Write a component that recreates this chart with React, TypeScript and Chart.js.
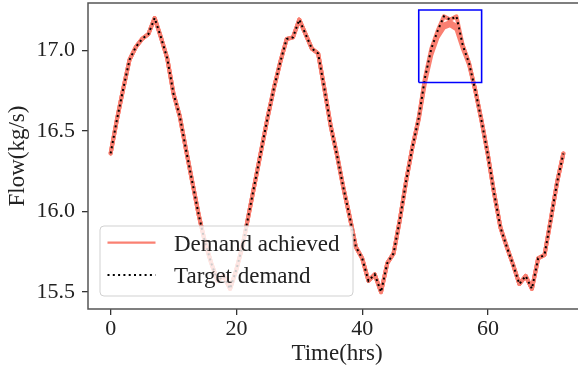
import React, { useEffect, useRef } from "react";
import { Chart, registerables } from "chart.js";

Chart.register(...registerables);

const hours = [
  0, 1, 2, 3, 4, 5, 6, 7, 8, 9, 10, 11, 12, 13, 14, 15, 16, 17, 18, 19, 20, 21, 22, 23,
  24, 25, 26, 27, 28, 29, 30, 31, 32, 33, 34, 35, 36, 37, 38, 39, 40, 41, 42, 43, 44, 45, 46, 47,
  48, 49, 50, 51, 52, 53, 54, 55, 56, 57, 58, 59, 60, 61, 62, 63, 64, 65, 66, 67, 68, 69, 70, 71, 72,
];

const targetDemand = [
  16.36, 16.57, 16.76, 16.94, 17.02, 17.07, 17.1, 17.2, 17.08, 16.95, 16.73, 16.59, 16.38, 16.18, 15.98, 15.81, 15.68, 15.57, 15.6, 15.52, 15.64, 15.79, 15.99, 16.19,
  16.39, 16.59, 16.77, 16.93, 17.07, 17.08, 17.19, 17.1, 17.01, 16.98, 16.76, 16.53, 16.35, 16.15, 15.97, 15.78, 15.71, 15.57, 15.61, 15.5, 15.68, 15.74, 15.95, 16.19,
  16.4, 16.58, 16.83, 17.01, 17.12, 17.21, 17.19, 17.21, 17.03, 16.92, 16.75, 16.56, 16.35, 16.11, 15.9, 15.78, 15.67, 15.55, 15.6, 15.52, 15.71, 15.73, 15.95, 16.18, 16.36,
];

const achievedRun1 = [
  16.36, 16.57, 16.76, 16.94, 17.02, 17.07, 17.1, 17.2, 17.08, 16.95, 16.73, 16.59, 16.38, 16.18, 15.98, 15.81, 15.68, 15.57, 15.6, 15.52, 15.64, 15.79, 15.99, 16.19,
  16.39, 16.59, 16.77, 16.93, 17.07, 17.08, 17.19, 17.1, 17.01, 16.98, 16.76, 16.53, 16.35, 16.15, 15.97, 15.78, 15.71, 15.57, 15.61, 15.5, 15.68, 15.74, 15.95, 16.19,
  16.4, 16.58, 16.83, 17.01, 17.12, 17.21, 17.19, 17.21, 17.03, 16.92, 16.75, 16.56, 16.35, 16.11, 15.9, 15.78, 15.67, 15.55, 15.6, 15.52, 15.71, 15.73, 15.95, 16.18, 16.36,
];

const achievedRun2 = [
  16.36, 16.57, 16.76, 16.94, 17.02, 17.07, 17.1, 17.2, 17.08, 16.95, 16.73, 16.59, 16.38, 16.18, 15.98, 15.81, 15.68, 15.57, 15.6, 15.52, 15.64, 15.79, 15.99, 16.19,
  16.39, 16.59, 16.77, 16.93, 17.07, 17.08, 17.19, 17.1, 17.01, 16.98, 16.76, 16.53, 16.35, 16.15, 15.97, 15.78, 15.71, 15.57, 15.61, 15.5, 15.68, 15.74, 15.95, 16.19,
  16.4, 16.58, 16.82, 16.99, 17.1, 17.16, 17.175, 17.15, 17.03, 16.92, 16.75, 16.56, 16.35, 16.11, 15.9, 15.78, 15.67, 15.55, 15.6, 15.52, 15.71, 15.73, 15.95, 16.18, 16.36,
];

const achievedRun3 = [
  16.36, 16.57, 16.76, 16.94, 17.02, 17.07, 17.1, 17.2, 17.08, 16.95, 16.73, 16.59, 16.38, 16.18, 15.98, 15.81, 15.68, 15.57, 15.6, 15.52, 15.64, 15.79, 15.99, 16.19,
  16.39, 16.59, 16.77, 16.93, 17.07, 17.08, 17.19, 17.1, 17.01, 16.98, 16.76, 16.53, 16.35, 16.15, 15.97, 15.78, 15.71, 15.57, 15.61, 15.5, 15.68, 15.74, 15.95, 16.19,
  16.4, 16.57, 16.8, 16.97, 17.08, 17.14, 17.155, 17.13, 17.01, 16.91, 16.75, 16.56, 16.35, 16.11, 15.9, 15.78, 15.67, 15.55, 15.6, 15.52, 15.71, 15.73, 15.95, 16.18, 16.36,
];

const zoomBoxX = [49, 59, 59, 49, 49];
const zoomBoxY = [16.8, 16.8, 17.25, 17.25, 16.8];

const xTicks = [0, 20, 40, 60];
const yTicks = [15.5, 16.0, 16.5, 17.0];

const legendLabels = ["Demand achieved", "Target demand"];

const FONT = "'Liberation Serif', 'Times New Roman', serif";
const SALMON = "#FA8072";

function pts(xs: number[], ys: number[]) {
  return xs.map((x, i) => ({ x, y: ys[i] }));
}

const framePlugin = {
  id: "frame",
  afterDraw(chart: any) {
    const { ctx, chartArea } = chart;
    ctx.save();
    ctx.strokeStyle = "#555";
    ctx.lineWidth = 1.5;
    ctx.strokeRect(chartArea.left, chartArea.top, chartArea.right - chartArea.left, chartArea.bottom - chartArea.top);
    ctx.restore();
  },
};

const legendPlugin = {
  id: "insideLegend",
  afterDatasetsDraw(chart: any) {
    const { ctx, chartArea } = chart;
    const left = chartArea.left + 12;
    const bottom = chartArea.bottom - 13;
    const w = 253;
    const h = 70;
    const top = bottom - h;
    const r = 4;
    ctx.save();
    ctx.beginPath();
    ctx.moveTo(left + r, top);
    ctx.lineTo(left + w - r, top);
    ctx.arcTo(left + w, top, left + w, top + r, r);
    ctx.lineTo(left + w, top + h - r);
    ctx.arcTo(left + w, top + h, left + w - r, top + h, r);
    ctx.lineTo(left + r, top + h);
    ctx.arcTo(left, top + h, left, top + h - r, r);
    ctx.lineTo(left, top + r);
    ctx.arcTo(left, top, left + r, top, r);
    ctx.closePath();
    ctx.fillStyle = "rgba(255,255,255,0.8)";
    ctx.fill();
    ctx.strokeStyle = "rgba(204,204,204,0.9)";
    ctx.lineWidth = 1;
    ctx.stroke();

    const rows = [top + 16.7, top + 49];
    ctx.beginPath();
    ctx.strokeStyle = SALMON;
    ctx.lineWidth = 2.3;
    ctx.setLineDash([]);
    ctx.moveTo(left + 7.5, rows[0]);
    ctx.lineTo(left + 55.5, rows[0]);
    ctx.stroke();
    ctx.beginPath();
    ctx.strokeStyle = "#000";
    ctx.lineWidth = 2;
    ctx.lineCap = "butt";
    ctx.setLineDash([2, 3.3]);
    ctx.moveTo(left + 7.5, rows[1]);
    ctx.lineTo(left + 55.5, rows[1]);
    ctx.stroke();
    ctx.setLineDash([]);

    ctx.fillStyle = "#222";
    ctx.font = `23px ${FONT}`;
    ctx.textAlign = "left";
    ctx.textBaseline = "alphabetic";
    ctx.fillText(legendLabels[0], left + 74, rows[0] + 8);
    ctx.fillText(legendLabels[1], left + 74, rows[1] + 8);
    ctx.restore();
  },
};

export default function App() {
  const canvasRef = useRef<HTMLCanvasElement | null>(null);

  useEffect(() => {
    if (!canvasRef.current) return;
    const achievedStyle = {
      borderColor: SALMON,
      borderWidth: 4,
      pointRadius: 0,
      tension: 0,
      borderJoinStyle: "round",
      borderCapStyle: "round",
      fill: false,
    };
    const chart = new Chart(canvasRef.current, {
      type: "line",
      data: {
        datasets: [
          {
            label: "box",
            data: pts(zoomBoxX, zoomBoxY),
            borderColor: "#0000ff",
            borderWidth: 1.6,
            pointRadius: 0,
            tension: 0,
            fill: false,
          },
          {
            label: legendLabels[1],
            data: pts(hours, targetDemand),
            borderColor: "#000",
            borderWidth: 2,
            borderDash: [2, 3.3],
            borderCapStyle: "butt",
            pointRadius: 0,
            tension: 0,
            fill: false,
          },
          { label: legendLabels[0], data: pts(hours, achievedRun1), ...achievedStyle },
          { label: "run2", data: pts(hours, achievedRun2), ...achievedStyle },
          { label: "run3", data: pts(hours, achievedRun3), ...achievedStyle },
        ] as any,
      },
      plugins: [framePlugin, legendPlugin],
      options: {
        animation: false,
        responsive: false,
        devicePixelRatio: 1,
        layout: { padding: { top: 3, right: 14, left: 0, bottom: 0 } },
        plugins: { legend: { display: false }, tooltip: { enabled: false } },
        scales: {
          x: {
            type: "linear",
            min: -3.6,
            max: 75.6,
            afterFit: (s: any) => {
              s.height = 63;
              s.paddingLeft = 0;
              s.paddingRight = 0;
            },
            afterBuildTicks: (s: any) => {
              s.ticks = xTicks.map((v) => ({ value: v }));
            },
            border: { display: false },
            grid: { drawOnChartArea: false, drawTicks: true, tickLength: 6, color: "#333", lineWidth: 1.3 },
            ticks: {
              color: "#222",
              font: { family: FONT, size: 22 },
              padding: 1,
              maxRotation: 0,
              callback: (v: any) => String(v),
            },
            title: {
              display: true,
              text: "Time(hrs)",
              color: "#222",
              font: { family: FONT, size: 23 },
              padding: { top: 0, bottom: 4 },
            },
          },
          y: {
            type: "linear",
            min: 15.395,
            max: 17.293,
            afterFit: (s: any) => {
              s.width = 88;
              s.paddingTop = 0;
              s.paddingBottom = 0;
            },
            afterBuildTicks: (s: any) => {
              s.ticks = yTicks.map((v) => ({ value: v }));
            },
            border: { display: false },
            grid: { drawOnChartArea: false, drawTicks: true, tickLength: 6, color: "#333", lineWidth: 1.3 },
            ticks: {
              color: "#222",
              font: { family: FONT, size: 22 },
              padding: 7,
              callback: (v: any) => Number(v).toFixed(1),
            },
            title: {
              display: true,
              text: "Flow(kg/s)",
              color: "#222",
              font: { family: FONT, size: 23 },
              padding: { top: 4, bottom: 0 },
            },
          },
        },
      } as any,
    });
    return () => chart.destroy();
  }, []);

  return (
    <div style={{ position: "absolute", left: 0, top: 0, width: 578, height: 372, overflow: "hidden", background: "#fff" }}>
      <canvas ref={canvasRef} width={600} height={372} style={{ width: 600, height: 372, display: "block" }} />
    </div>
  );
}
